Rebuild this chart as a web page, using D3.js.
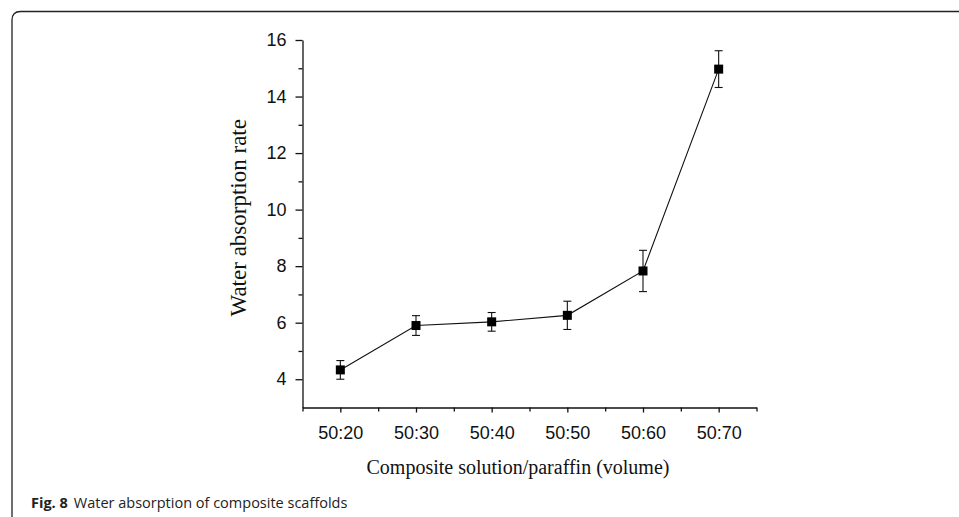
<!DOCTYPE html>
<html>
<head>
<meta charset="utf-8">
<script src="https://cdn.jsdelivr.net/npm/d3@7"></script>
<style>
  body { margin: 0; background: #fff; }
  svg { display: block; }
  .tick text { font-family: "Liberation Sans", Arial, sans-serif; fill: #111; }
</style>
</head>
<body>
<div id="chart"></div>
<script>
// values
const categories = ['50:20', '50:30', '50:40', '50:50', '50:60', '50:70'];
const rates = [4.33, 5.9, 6.03, 6.26, 7.83, 14.97];
const errors = [0.33, 0.35, 0.33, 0.5, 0.73, 0.65];
const yMajor = [4, 6, 8, 10, 12, 14, 16];
const yMinor = [5, 7, 9, 11, 13, 15];

const W = 959, H = 517;
const plotL = 302.5, plotR = 756.5, plotT = 40, plotB = 407.5;

const svg = d3.select('#chart').append('svg')
  .attr('width', W)
  .attr('height', H);

// the frame round the figure, rounded at top left
svg.append('path')
  .attr('d', `M12,${H} V20 Q12,11.5 20.5,11.5 H${W}`)
  .attr('fill', 'none')
  .attr('stroke', '#222')
  .attr('stroke-width', 1.3);

// categories sit at 1..6, axis runs from 0.5 to 6.5
const x = d3.scaleLinear().domain([0.5, 6.5]).range([plotL, plotR]);
const y = d3.scaleLinear().domain([3, 16]).range([plotB, plotT]);

const xAxis = svg.append('g')
  .attr('transform', `translate(0,${plotB})`)
  .call(d3.axisBottom(x)
    .tickValues(d3.range(1, 7))
    .tickFormat(i => categories[i - 1])
    .tickSize(5)
    .tickSizeOuter(0)
    .tickPadding(14));
xAxis.selectAll('text').style('font-size', '18px');

svg.append('g')
  .attr('transform', `translate(0,${plotB})`)
  .call(d3.axisBottom(x)
    .tickValues(d3.range(0.5, 7, 1))
    .tickFormat('')
    .tickSize(4)
    .tickSizeOuter(0))
  .select('.domain').remove();

const yAxis = svg.append('g')
  .attr('transform', `translate(${plotL},0)`)
  .call(d3.axisLeft(y)
    .tickValues(yMajor)
    .tickSize(7)
    .tickSizeOuter(0)
    .tickPadding(9));
yAxis.selectAll('text').style('font-size', '18px');

svg.append('g')
  .attr('transform', `translate(${plotL},0)`)
  .call(d3.axisLeft(y)
    .tickValues(yMinor)
    .tickFormat('')
    .tickSize(4)
    .tickSizeOuter(0))
  .select('.domain').remove();

svg.selectAll('.domain, .tick line')
  .attr('stroke', '#111')
  .attr('stroke-width', 1.3);

// axis titles
svg.append('text')
  .attr('x', 518)
  .attr('y', 474)
  .attr('text-anchor', 'middle')
  .style('font-family', '"Liberation Serif", "Times New Roman", serif')
  .style('font-size', '20px')
  .attr('fill', '#111')
  .text('Composite solution/paraffin (volume)');

svg.append('text')
  .attr('transform', `translate(246,${(plotT + plotB) / 2 - 6}) rotate(-90)`)
  .attr('text-anchor', 'middle')
  .style('font-family', '"Liberation Serif", "Times New Roman", serif')
  .style('font-size', '23px')
  .attr('fill', '#111')
  .text('Water absorption rate');

// data
const pts = rates.map((v, i) => ({ i: i + 1, v: v, e: errors[i] }));

svg.append('path')
  .datum(pts)
  .attr('fill', 'none')
  .attr('stroke', '#111')
  .attr('stroke-width', 1.1)
  .attr('d', d3.line().x(d => x(d.i)).y(d => y(d.v)));

const eb = svg.append('g').selectAll('g')
  .data(pts)
  .enter()
  .append('g')
  .attr('stroke', '#111')
  .attr('stroke-width', 1.1);

eb.append('line')
  .attr('x1', d => x(d.i)).attr('x2', d => x(d.i))
  .attr('y1', d => y(d.v - d.e)).attr('y2', d => y(d.v + d.e));
eb.append('line')
  .attr('x1', d => x(d.i) - 4).attr('x2', d => x(d.i) + 4)
  .attr('y1', d => y(d.v + d.e)).attr('y2', d => y(d.v + d.e));
eb.append('line')
  .attr('x1', d => x(d.i) - 4).attr('x2', d => x(d.i) + 4)
  .attr('y1', d => y(d.v - d.e)).attr('y2', d => y(d.v - d.e));

svg.append('g').selectAll('rect')
  .data(pts)
  .enter()
  .append('rect')
  .attr('x', d => x(d.i) - 4.5)
  .attr('y', d => y(d.v) - 4.5)
  .attr('width', 9)
  .attr('height', 9)
  .attr('fill', '#000');

// caption
const cap = svg.append('text')
  .attr('x', 31)
  .attr('y', 508)
  .style('font-family', '"Open Sans", "Noto Sans", sans-serif')
  .style('font-size', '14.5px')
  .attr('fill', '#222');
cap.append('tspan').style('font-weight', 'bold').text('Fig. 8');
cap.append('tspan').attr('dx', 6).text('Water absorption of composite scaffolds');
</script>
</body>
</html>
